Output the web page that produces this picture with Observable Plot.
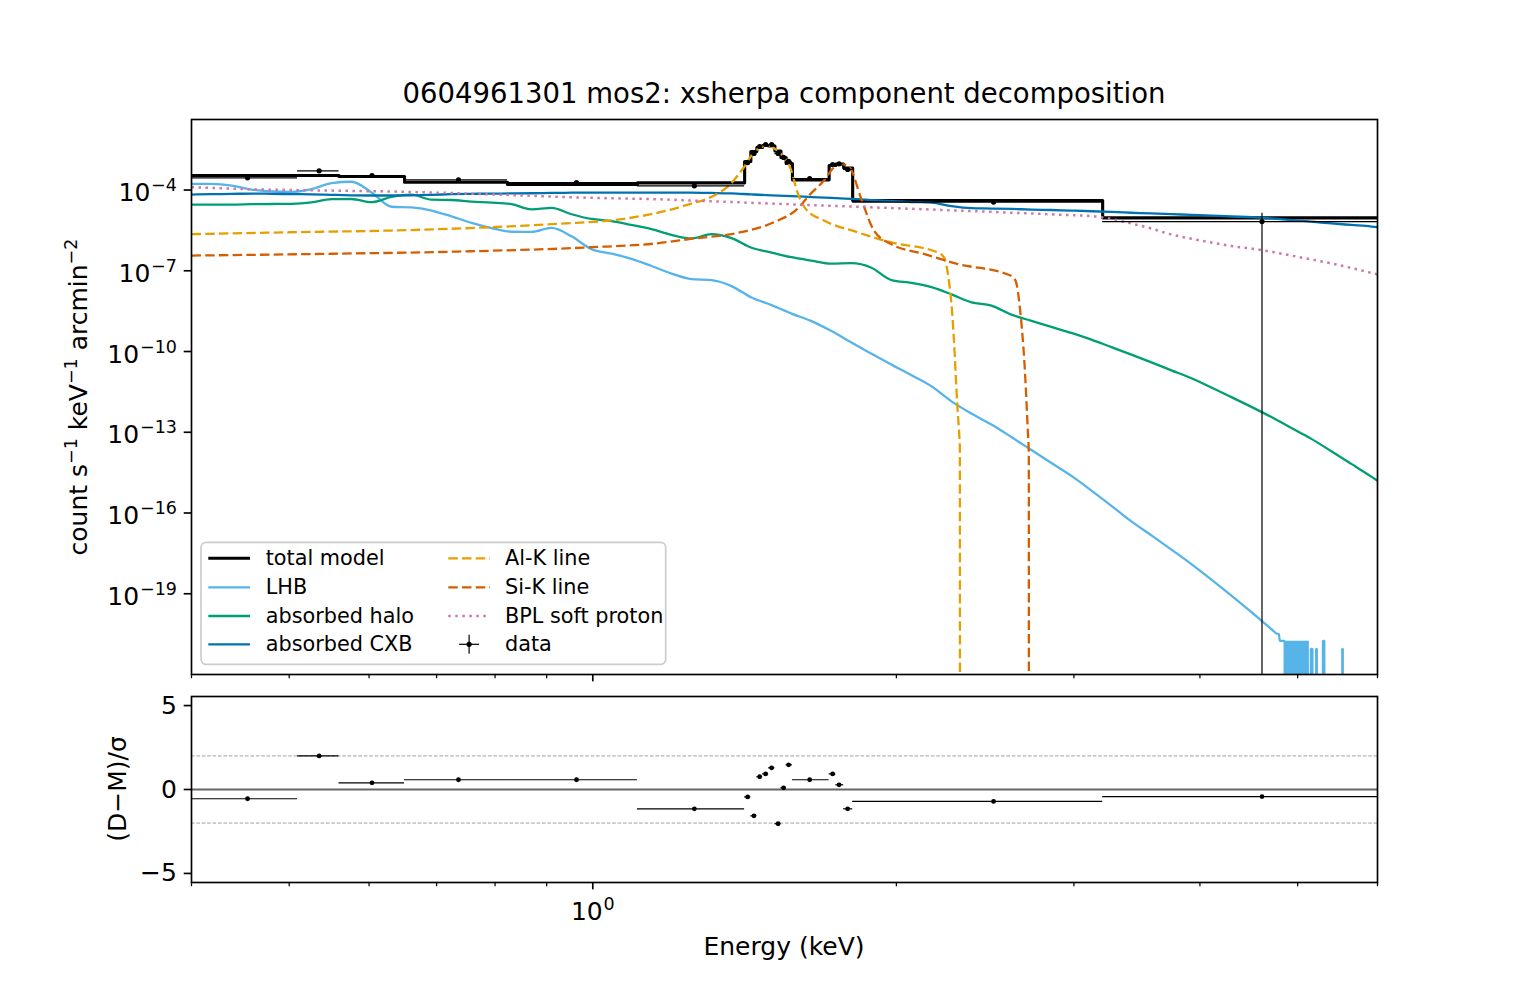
<!DOCTYPE html>
<html>
<head>
<meta charset="utf-8">
<script src="https://cdn.jsdelivr.net/npm/d3@7"></script>
<script src="https://cdn.jsdelivr.net/npm/@observablehq/plot@0.6"></script>
<style>
html, body { margin: 0; padding: 0; background: #ffffff; }
#fig { position: relative; width: 1530px; height: 990px; background: #ffffff; overflow: hidden;
       font-family: "DejaVu Sans", sans-serif; color: #000; }
.abs { position: absolute; white-space: nowrap; line-height: 1; }
.c { transform: translate(-50%, -50%); }
.r { transform: translate(-50%, -50%) rotate(-90deg); }
.sup { font-size: 70%; position: relative; top: -0.55em; }
</style>
</head>
<body>
<div id="fig">
  <div class="abs c" style="left:784px; top:94px; font-size:27.5px;">0604961301 mos2: xsherpa component decomposition</div>
  <div class="abs r" style="left:78px; top:396.5px; font-size:25px;">count s<span class="sup">−1</span> keV<span class="sup">−1</span> arcmin<span class="sup">−2</span></div>
  <div class="abs r" style="left:117px; top:789px; font-size:25px;">(D−M)/σ</div>
  <div class="abs c" style="left:784px; top:946px; font-size:25px;">Energy (keV)</div>
  <div id="top" class="abs" style="left:0; top:0;"></div>
  <div id="bottom" class="abs" style="left:0; top:684px;"></div>
  <svg id="legend" class="abs" style="left:199px; top:540px;" width="470" height="128"></svg>
</div>
<script>
// ---------------- data ----------------
// common energy grid (keV) for the smooth components
const gridE = [0.400,0.4187,0.4383,0.4587,0.4802,0.5026,0.5261,0.5507,0.5764,0.6034,
  0.6316,0.6611,0.6920,0.7243,0.7582,0.7936,0.8307,0.8695,0.9101,0.9526,
  0.9971,1.0437,1.0924,1.1435,1.1969,1.2528,1.3113,1.3726,1.4367,1.5038,
  1.5741,1.6476,1.7246,1.8052,1.8895,1.9778,2.0701,2.1668,2.2681,2.3740,
  2.4850,2.6010,2.7226,2.8498,2.9829,3.1222,3.2681,3.4207,3.5806,3.7478,
  3.9229,4.1062,4.2980,4.4987,4.7089,4.9289,5.1591,5.4001,5.6524,5.9163,6.000];

// count s^-1 keV^-1 arcmin^-2
const lhb = [1.70e-4,1.69e-4,1.46e-4,1.04e-4,8.8e-5,8.57e-5,1.09e-4,1.79e-4,2.03e-4,8.14e-5,
  2.39e-5,2.27e-5,1.73e-5,1.05e-5,6.03e-6,3.87e-6,2.82e-6,2.77e-6,3.90e-6,1.90e-6,
  6.30e-7,4.36e-7,2.77e-7,1.50e-7,7.87e-8,4.91e-8,4.51e-8,2.70e-8,1.01e-8,5.31e-9,
  2.56e-9,1.35e-9,5.73e-10,2.16e-10,8.21e-11,3.26e-11,1.32e-11,5.13e-12,1.41e-12,4.95e-13,
  1.93e-13,6.63e-14,2.18e-14,7.22e-15,2.39e-15,6.80e-16,1.85e-16,4.87e-17,1.47e-17,4.36e-18,
  1.26e-18,3.34e-19,8.49e-20,2.07e-20,4.83e-21];

// high-energy LHB tail: model values that hit zero (drawn clipped at the axis floor)
const lhbTailE = [4.7089,4.765,4.790,4.800,
  4.853,4.864,4.875,4.886,4.897,4.908,4.919,4.930,4.941,4.952,
  4.963,4.974,4.985,4.996,5.007,5.018,5.029,5.040,5.051,5.062,
  5.073,5.084,5.095,5.106,5.117,5.126,
  5.150,5.153,5.172,5.176,5.213,5.216,5.224,5.228,5.293,5.297,
  5.314,5.318,5.533,5.536,5.543,5.546,6.0];
const lhbTail = [4.83e-21,3.26e-21,3.26e-21,1.79e-21,
  1.79e-21,1e-40,1.79e-21,1e-40,1.79e-21,1e-40,1.79e-21,1e-40,1.79e-21,1e-40,
  1.79e-21,1e-40,1.79e-21,1e-40,1.79e-21,1e-40,1.79e-21,1e-40,1.79e-21,1e-40,
  1.79e-21,1e-40,1.79e-21,1e-40,1.79e-21,1e-40,
  1e-40,9.0e-22,9.0e-22,1e-40,1e-40,9.0e-22,9.0e-22,1e-40,1e-40,1.79e-21,
  1.79e-21,1e-40,1e-40,9.0e-22,9.0e-22,1e-40,1e-40];

const halo = [2.89e-5,2.89e-5,2.89e-5,2.97e-5,3.02e-5,3.07e-5,3.46e-5,4.59e-5,4.63e-5,3.55e-5,
  5.54e-5,6.69e-5,4.36e-5,4.25e-5,3.70e-5,3.43e-5,2.99e-5,1.92e-5,2.16e-5,1.26e-5,
  8.42e-6,7.04e-6,5.04e-6,3.52e-6,2.16e-6,1.59e-6,2.31e-6,1.64e-6,7.16e-7,4.75e-7,
  3.18e-7,2.39e-7,1.84e-7,1.92e-7,1.30e-7,4.51e-8,3.55e-8,2.48e-8,1.33e-8,6.75e-9,
  5.08e-9,2.35e-9,1.38e-9,8.21e-10,4.91e-10,2.75e-10,1.45e-10,7.67e-11,3.97e-11,2.00e-11,
  1.01e-11,4.59e-12,2.02e-12,8.79e-13,3.67e-13,1.44e-13,5.68e-14,1.97e-14,6.69e-15,2.25e-15,1.59e-15];

const cxb = [6.80e-5,6.98e-5,7.16e-5,7.41e-5,7.22e-5,7.04e-5,6.92e-5,6.63e-5,6.35e-5,6.25e-5,
  6.25e-5,6.35e-5,6.63e-5,6.98e-5,7.22e-5,7.35e-5,7.48e-5,7.60e-5,7.80e-5,7.94e-5,
  8.07e-5,8.07e-5,8.07e-5,8.07e-5,8.07e-5,8.07e-5,7.80e-5,7.48e-5,6.86e-5,6.35e-5,
  5.93e-5,5.49e-5,5.13e-5,4.67e-5,4.25e-5,3.87e-5,3.58e-5,3.43e-5,2.52e-5,2.11e-5,
  2.05e-5,1.98e-5,1.88e-5,1.81e-5,1.72e-5,1.63e-5,1.53e-5,1.43e-5,1.35e-5,1.27e-5,
  1.19e-5,1.12e-5,1.04e-5,9.83e-6,8.79e-6,7.67e-6,6.69e-6,5.78e-6,5.04e-6,4.40e-6,4.14e-6];

const bpl = [1.27e-4,1.20e-4,1.13e-4,1.06e-4,1.03e-4,1.00e-4,9.75e-5,9.50e-5,9.26e-5,9.02e-5,
  8.80e-5,8.43e-5,8.07e-5,7.74e-5,7.29e-5,6.86e-5,6.46e-5,6.09e-5,5.73e-5,5.40e-5,
  5.13e-5,4.96e-5,4.79e-5,4.59e-5,4.36e-5,4.07e-5,3.83e-5,3.58e-5,3.34e-5,3.15e-5,
  2.94e-5,2.77e-5,2.59e-5,2.44e-5,2.27e-5,2.14e-5,2.00e-5,1.88e-5,1.76e-5,1.66e-5,
  1.55e-5,1.43e-5,1.34e-5,1.25e-5,1.16e-5,1.08e-5,8.35e-6,5.68e-6,3.71e-6,2.22e-6,
  1.55e-6,1.12e-6,8.28e-7,6.69e-7,5.09e-7,3.67e-7,2.63e-7,1.88e-7,1.27e-7,8.35e-8,7.35e-8];

const alE = [0.400,0.5015,0.6301,0.7916,0.9221,1.0737,1.2034,1.2504,1.3088,1.3700,
  1.4122,1.4448,1.4671,1.4898,1.5113,1.5357,1.5712,1.5954,1.6259,1.6953,
  1.8294,1.9736,2.1958,2.2291,2.2547,2.2722,2.2806,2.2983,2.3104,2.3120,2.3130];
const alK = [2.28e-6,2.70e-6,3.12e-6,4.14e-6,5.54e-6,8.50e-6,2.00e-5,3.07e-5,5.40e-5,1.70e-4,
  7.04e-4,2.54e-3,3.80e-3,4.51e-3,3.64e-3,2.22e-3,6.14e-4,8.28e-5,2.00e-5,7.35e-6,
  2.70e-6,1.15e-6,4.87e-7,3.18e-7,4.32e-8,2.50e-9,2.94e-10,1.13e-12,4.87e-14,2.74e-14,1e-40];

const siE = [0.400,0.5410,0.7338,0.9948,1.1586,1.2504,1.4016,1.5124,1.5954,1.6384,
  1.6953,1.7345,1.7612,1.7814,1.8018,1.8435,1.9003,1.9736,2.1296,2.2983,
  2.5955,2.6253,2.6555,2.6798,2.7001,2.7063,2.7070];
const siK = [3.67e-7,4.25e-7,5.17e-7,7.47e-7,1.05e-6,1.53e-6,2.70e-6,6.35e-6,2.00e-5,6.25e-5,
  2.26e-4,7.04e-4,9.42e-4,8.50e-4,6.14e-4,5.40e-5,3.12e-6,1.00e-6,4.25e-7,1.81e-7,
  6.63e-8,4.32e-8,2.50e-9,3.46e-11,1.15e-13,1.56e-14,1e-40];

// grouped spectrum: bin edges, total model per bin, data, errors, residuals
const binEdges = [0.400,0.5096,0.5602,0.6506,0.8230,1.1073,1.4144,1.4346,1.4544,1.4738,
  1.4941,1.5157,1.5366,1.5549,1.5775,1.7154,1.7419,1.7733,1.8101,3.2034,6.0];
const modelRate = [3.46e-4,3.46e-4,3.18e-4,1.95e-4,1.60e-4,1.85e-4,1.15e-3,2.70e-3,3.80e-3,4.51e-3,
  4.32e-3,2.82e-3,1.62e-3,9.66e-4,2.39e-4,8.14e-4,9.26e-4,6.58e-4,4.07e-5,9.26e-6];
const dataE = [0.4546,0.5353,0.6040,0.7359,0.9635,1.2610,1.4242,1.4448,1.4638,1.4839,
  1.5043,1.5268,1.5460,1.5638,1.6408,1.7292,1.7548,1.7896,2.4970,4.609];
const dataRate = [2.84e-4,5.17e-4,3.46e-4,2.39e-4,1.90e-4,1.43e-4,1.05e-3,2.28e-3,4.14e-3,4.91e-3,
  4.91e-3,2.28e-3,1.62e-3,1.15e-3,2.68e-4,8.87e-4,9.42e-4,5.78e-4,3.58e-5,6.75e-6];
const dataErr = [3.0e-5,5.0e-5,3.0e-5,2.0e-5,1.5e-5,1.5e-5,1.0e-4,2.0e-4,3.5e-4,4.0e-4,
  4.0e-4,2.5e-4,1.6e-4,1.1e-4,2.2e-5,8.0e-5,8.5e-5,6.0e-5,6.9e-6,6.9e-6];
const resid = [-0.55,2.0,0.40,0.58,0.58,-1.15,-0.44,-1.57,0.76,0.93,
  1.29,-2.04,0.10,1.47,0.58,0.93,0.28,-1.15,-0.71,-0.42];

// ticks ("^" marks the start of a superscript)
const xMinorTicks = [0.4,0.5,0.6,0.7,0.8,0.9,2,3,4,5,6];
const xMajorTicks = [1];
const xMajorLabels = ["10^0"];
const yTickValues = [1e-4,1e-7,1e-10,1e-13,1e-16,1e-19];
const yTickLabels = ["10^−4","10^−7","10^−10","10^−13","10^−16","10^−19"];
const residTicks = [-5,0,5];
const residTickLabels = ["−5","0","5"];
const legendLabels = ["total model","LHB","absorbed halo","absorbed CXB","Al-K line","Si-K line","BPL soft proton","data"];

// ---------------- styles ----------------
const S = {
  total: {stroke: "#000000", strokeWidth: 3.1},
  lhb:   {stroke: "#56B4E9", strokeWidth: 2.3},
  halo:  {stroke: "#009E73", strokeWidth: 2.3},
  cxb:   {stroke: "#0072B2", strokeWidth: 2.3},
  al:    {stroke: "#E69F00", strokeWidth: 2.3, strokeDasharray: "9.5,4.2", strokeLinecap: "butt"},
  si:    {stroke: "#D55E00", strokeWidth: 2.3, strokeDasharray: "9.5,4.2", strokeLinecap: "butt"},
  bpl:   {stroke: "#CC79A7", strokeWidth: 2.5, strokeDasharray: "2.5,4.5", strokeLinecap: "butt"}
};
const TICK_FONT = 25;

const pts = (xs, ys) => ys.map((v, i) => ({E: xs[i], v}));
const lhbPts = pts(gridE, lhb);
const lhbTailPts = pts(lhbTailE, lhbTail);
const haloPts = pts(gridE, halo);
const cxbPts = pts(gridE, cxb);
const bplPts = pts(gridE, bpl);
const alPts = pts(alE, alK);
const siPts = pts(siE, siK);
const totalPts = modelRate.map((v, i) => ({E: binEdges[i], v}))
  .concat([{E: binEdges[binEdges.length - 1], v: modelRate[modelRate.length - 1]}]);
const dataPts = dataE.map((E, i) => ({
  E, lo: binEdges[i], hi: binEdges[i + 1], v: dataRate[i],
  vLo: Math.max(dataRate[i] - dataErr[i], 1e-40), vHi: dataRate[i] + dataErr[i], r: resid[i]
}));

const W = 1530, ML = 191, MR = 153;
const common = {
  width: W, marginLeft: ML, marginRight: MR,
  style: {background: "transparent", fontFamily: "DejaVu Sans", fontSize: "20.8px", color: "black", overflow: "visible"}
};

// render "base^sup" tick labels as mathtext-like superscripts
function superscriptify(svg, baseDy, supDy) {
  d3.select(svg).selectAll("text").each(function () {
    const t = this.textContent;
    const k = t.indexOf("^");
    if (k < 0) return;
    const sel = d3.select(this);
    sel.text(null);
    sel.append("tspan").attr("dy", baseDy).text(t.slice(0, k));
    sel.append("tspan").attr("dy", supDy).attr("dx", 0.8).attr("font-size", "70%").text(t.slice(k + 1));
  });
}

const topPlot = Plot.plot({
  ...common,
  height: 684, marginTop: 119, marginBottom: 10,
  x: {type: "log", domain: [0.4, 6]},
  y: {type: "log", domain: [1e-22, 0.0417]},
  marks: [
    Plot.line(totalPts, {x: "E", y: "v", curve: "step-after", ...S.total, clip: true}),
    Plot.line(lhbPts, {x: "E", y: "v", curve: "monotone-x", ...S.lhb, clip: true}),
    Plot.line(lhbTailPts, {x: "E", y: "v", curve: "linear", ...S.lhb, strokeWidth: 2.2, strokeLinejoin: "miter", clip: true}),
    Plot.line(haloPts, {x: "E", y: "v", curve: "monotone-x", ...S.halo, clip: true}),
    Plot.line(cxbPts, {x: "E", y: "v", curve: "monotone-x", ...S.cxb, clip: true}),
    Plot.line(alPts, {x: "E", y: "v", curve: "monotone-x", ...S.al, clip: true}),
    Plot.line(siPts, {x: "E", y: "v", curve: "monotone-x", ...S.si, clip: true}),
    Plot.line(bplPts, {x: "E", y: "v", curve: "monotone-x", ...S.bpl, clip: true}),
    Plot.ruleY(dataPts, {y: "v", x1: "lo", x2: "hi", stroke: "black", strokeWidth: 1.2, clip: true}),
    Plot.ruleX(dataPts, {x: "E", y1: "vLo", y2: "vHi", stroke: "black", strokeWidth: 1.2, clip: true}),
    Plot.dot(dataPts, {x: "E", y: "v", r: 2.6, fill: "black", stroke: "none"}),
    Plot.frame({stroke: "black", strokeWidth: 1.67}),
    Plot.axisY({ticks: yTickValues, tickFormat: d => yTickLabels[yTickValues.indexOf(d)],
      tickSize: 7.3, tickPadding: 7.3, strokeWidth: 1.67, fontSize: TICK_FONT, label: null}),
    Plot.axisX({ticks: xMinorTicks, tickFormat: () => "", tickSize: 4.2, strokeWidth: 1.25, label: null}),
    Plot.axisX({ticks: xMajorTicks, tickFormat: () => "", tickSize: 7.3, strokeWidth: 1.67, label: null})
  ]
});
superscriptify(topPlot, 3, -10);
document.getElementById("top").appendChild(topPlot);

const bottomPlot = Plot.plot({
  ...common,
  height: 306, marginTop: 12, marginBottom: 108,
  x: {type: "log", domain: [0.4, 6]},
  y: {domain: [-5.54, 5.54]},
  marks: [
    Plot.ruleY([-2, 2], {stroke: "#a0a0a0", strokeWidth: 1, strokeDasharray: "3.6,1.8"}),
    Plot.ruleY([0], {stroke: "#666666", strokeWidth: 2}),
    Plot.ruleY(dataPts, {y: "r", x1: "lo", x2: "hi", stroke: "black", strokeWidth: 1.2, clip: true}),
    Plot.dot(dataPts, {x: "E", y: "r", r: 2.4, fill: "black", stroke: "none"}),
    Plot.frame({stroke: "black", strokeWidth: 1.67}),
    Plot.axisY({ticks: residTicks, tickFormat: d => residTickLabels[residTicks.indexOf(d)],
      tickSize: 7.3, tickPadding: 7.3, strokeWidth: 1.67, fontSize: TICK_FONT, label: null}),
    Plot.axisX({ticks: xMinorTicks, tickFormat: () => "", tickSize: 4.2, strokeWidth: 1.25, label: null}),
    Plot.axisX({ticks: xMajorTicks, tickFormat: d => xMajorLabels[xMajorTicks.indexOf(d)],
      tickSize: 7.3, tickPadding: 7.3, strokeWidth: 1.67, fontSize: TICK_FONT, label: null})
  ]
});
superscriptify(bottomPlot, 5, -10);
document.getElementById("bottom").appendChild(bottomPlot);

// ---------------- legend ----------------
const lg = d3.select("#legend");
lg.append("rect").attr("x", 2).attr("y", 2.3).attr("width", 464.7).attr("height", 122)
  .attr("rx", 5).attr("fill", "white").attr("fill-opacity", 0.8)
  .attr("stroke", "#cccccc").attr("stroke-width", 1.67);
const legendKeys = ["total", "lhb", "halo", "cxb", "al", "si", "bpl", "data"];
const rowY = [18.3, 47.3, 76, 104.3];
const colHandle = [9.3, 249.3];
const colText = [66.7, 306];
legendLabels.forEach((label, i) => {
  const col = i < 4 ? 0 : 1, row = i % 4, y = rowY[row], x0 = colHandle[col];
  const key = legendKeys[i];
  if (key === "data") {
    const cx = x0 + 20.8;
    lg.append("line").attr("x1", cx - 10).attr("x2", cx + 10).attr("y1", y).attr("y2", y)
      .attr("stroke", "black").attr("stroke-width", 1.2);
    lg.append("line").attr("x1", cx).attr("x2", cx).attr("y1", y - 9.5).attr("y2", y + 9.5)
      .attr("stroke", "black").attr("stroke-width", 1.2);
    lg.append("circle").attr("cx", cx).attr("cy", y).attr("r", 2.6).attr("fill", "black");
  } else {
    const s = S[key];
    lg.append("line").attr("x1", x0).attr("x2", x0 + 41.7).attr("y1", y).attr("y2", y)
      .attr("stroke", s.stroke).attr("stroke-width", s.strokeWidth)
      .attr("stroke-dasharray", s.strokeDasharray || null)
      .attr("stroke-linecap", "butt");
  }
  lg.append("text").attr("x", colText[col]).attr("y", y).attr("dominant-baseline", "central")
    .attr("font-family", "DejaVu Sans").attr("font-size", 20.8).attr("fill", "black").text(label);
});
</script>
</body>
</html>
